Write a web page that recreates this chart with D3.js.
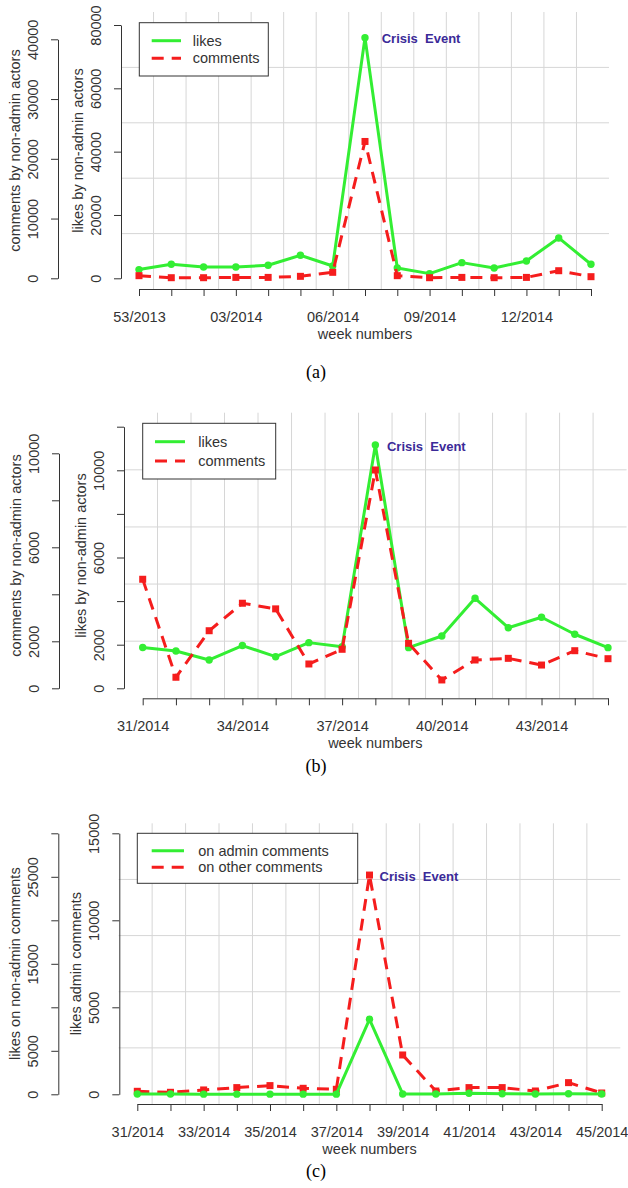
<!DOCTYPE html>
<html>
<head>
<meta charset="utf-8">
<script src="https://cdn.jsdelivr.net/npm/d3@7"></script>
<style>
  html, body { margin: 0; padding: 0; background: #fff; }
  svg { display: block; }
  text { font-family: "Liberation Sans", Arial, sans-serif; }
</style>
</head>
<body>
<script>
// ---- data -------------------------------------------------------------
// (a) weekly activity around the first crisis
const weeksA = ["53/2013","01/2014","02/2014","03/2014","04/2014","05/2014","06/2014","07/2014",
                "08/2014","09/2014","10/2014","11/2014","12/2014","13/2014","14/2014"];
const labelsA = ["53/2013","03/2014","06/2014","09/2014","12/2014"];
const likesA    = [2750, 4430, 3580, 3580, 4110, 7270, 3900, 76000, 3260, 1480, 4950, 3260, 5480, 12740, 4430];
const commentsA = [440, 100, 100, 150, 150, 330, 1000, 22900, 440, 100, 150, 100, 150, 1270, 270];
const likesTicksA = [0, 20000, 40000, 60000, 80000];
const likesLabelsA = [0, 20000, 40000, 60000, 80000];
const commentTicksA = [0, 10000, 20000, 30000, 40000];
const commentLabelsA = [0, 10000, 20000, 30000, 40000];

// (b) weekly activity around the second crisis
const weeksB = ["31/2014","32/2014","33/2014","34/2014","35/2014","36/2014","37/2014","38/2014",
                "39/2014","40/2014","41/2014","42/2014","43/2014","44/2014","45/2014"];
const labelsB = ["31/2014","34/2014","37/2014","40/2014","43/2014"];
const likesB    = [1870, 1710, 1300, 1960, 1450, 2095, 1910, 11160, 1865, 2400, 4130, 2780, 3260, 2480, 1865];
const commentsB = [4640, 470, 2450, 3620, 3380, 1035, 1660, 9290, 1915, 355, 1205, 1275, 990, 1600, 1260];
const likesTicksB = [0, 2000, 4000, 6000, 8000, 10000, 12000];
const likesLabelsB = [0, 2000, 6000, 10000];
const commentTicksB = [0, 2000, 4000, 6000, 8000, 10000];
const commentLabelsB = [0, 2000, 6000, 10000];

// (c) likes on comments, same weeks as (b)
const weeksC = weeksB;
const labelsC = ["31/2014","33/2014","35/2014","37/2014","39/2014","41/2014","43/2014","45/2014"];
const adminLikesC = [20, 20, 10, 10, 10, 10, 10, 4310, 20, 20, 60, 30, 20, 30, 20];
const otherLikesC = [345, 230, 500, 770, 1000, 690, 575, 25200, 4520, 380, 770, 770, 380, 1340, 150];
const adminTicksC = [0, 5000, 10000, 15000];
const adminLabelsC = [0, 5000, 10000, 15000];
const otherTicksC = [0, 5000, 10000, 15000, 20000, 25000, 30000];
const otherLabelsC = [0, 5000, 15000, 25000];

const crisisLabel = "Crisis  Event";

// ---- styling ----------------------------------------------------------
const GREEN = "#33ee33";
const RED = "#f51d1d";
const INK = "#333333";
const GRID = "#d6d6d6";
const CRISIS = "#3b2a98";
const FS = 14.5;

const W = 628, H = 1188;
const svg = d3.select("body").append("svg").attr("width", W).attr("height", H);

// ---- panel layouts ----------------------------------------------------
const panels = [
  {
    caption: "(a)", captionY: 377.6,
    weeks: weeksA, xLabels: labelsA, xRange: [139, 591],
    plot: { left: 121, right: 609, top: 12, bottom: 289 },
    inner: { title: "likes by non-admin actors", x: 121, domain: [0, 80000], range: [278.3, 25],
             ticks: likesTicksA, labels: likesLabelsA },
    outer: { title: "comments by non-admin actors", x: 58, domain: [0, 40000], range: [278.3, 39.3],
             ticks: commentTicksA, labels: commentLabelsA },
    green: { name: "likes", values: likesA, axis: "inner" },
    red: { name: "comments", values: commentsA, axis: "outer" },
    redOnTop: true,
    legend: { x0: 139.3, x1: 268.3, y0: 22.7, y1: 76, rows: [40.7, 58.3], lx0: 151.7, lx1: 181, tx: 192.7 },
    crisis: { series: "green", dx: 16.7, dy: 0.6 }
  },
  {
    caption: "(b)", captionY: 771.6,
    weeks: weeksB, xLabels: labelsB, xRange: [142.7, 608],
    plot: { left: 124, right: 626.6, top: 412.7, bottom: 698.3 },
    inner: { title: "likes by non-admin actors", x: 124, domain: [0, 12000], range: [688.3, 426.7],
             ticks: likesTicksB, labels: likesLabelsB },
    outer: { title: "comments by non-admin actors", x: 59, domain: [0, 10000], range: [688.3, 453.3],
             ticks: commentTicksB, labels: commentLabelsB },
    green: { name: "likes", values: likesB, axis: "inner" },
    red: { name: "comments", values: commentsB, axis: "outer" },
    redOnTop: true,
    legend: { x0: 142.7, x1: 275.7, y0: 423.3, y1: 479, rows: [441.7, 461], lx0: 155, lx1: 185, tx: 198.3 },
    crisis: { series: "green", dx: 11.6, dy: 1.7 }
  },
  {
    caption: "(c)", captionY: 1176.5,
    weeks: weeksC, xLabels: labelsC, xRange: [137.3, 601.7],
    plot: { left: 118.7, right: 620.3, top: 823.3, bottom: 1104 },
    inner: { title: "likes admin comments", x: 119.3, domain: [0, 15000], range: [1094.3, 833.3],
             ticks: adminTicksC, labels: adminLabelsC },
    outer: { title: "likes on non-admin comments", x: 58.3, domain: [0, 30000], range: [1094.3, 833.3],
             ticks: otherTicksC, labels: otherLabelsC },
    green: { name: "on admin comments", values: adminLikesC, axis: "inner" },
    red: { name: "on other comments", values: otherLikesC, axis: "outer" },
    redOnTop: false,
    legend: { x0: 137.3, x1: 357.7, y0: 833.3, y1: 883.3, rows: [850.7, 867.3], lx0: 151.7, lx1: 184, tx: 198.3 },
    crisis: { series: "red", dx: 10, dy: 1.7 }
  }
];

function drawYAxis(g, spec) {
  const scale = d3.scaleLinear().domain(spec.domain).range(spec.range);
  const axis = d3.axisLeft(scale)
    .tickValues(spec.ticks)
    .tickSize(7)
    .tickSizeOuter(0)
    .tickFormat(d => spec.labels.includes(d) ? String(d) : "");
  const ag = g.append("g").attr("transform", `translate(${spec.x},0)`).call(axis);
  ag.select(".domain").attr("stroke", INK);
  ag.selectAll(".tick line").attr("stroke", INK);
  ag.selectAll(".tick text")
    .attr("x", null).attr("y", null)
    .attr("dy", "0.35em")
    .attr("text-anchor", "middle")
    .attr("transform", "translate(-25,0) rotate(-90)")
    .attr("fill", INK)
    .style("font-size", FS + "px")
    .style("font-family", "'Liberation Sans', Arial, sans-serif");
  // axis title, centred on the plotting region
  return scale;
}

panels.forEach(p => {
  const g = svg.append("g");
  const { left, right, top, bottom } = p.plot;

  // grid: 15 vertical and 5 horizontal equal divisions of the plotting region
  const nx = 15, ny = 5;
  const gx = d3.range(1, nx).map(k => left + k * (right - left) / nx);
  const gy = d3.range(1, ny).map(k => top + k * (bottom - top) / ny);
  g.selectAll(".vgrid").data(gx).join("line")
    .attr("x1", d => d).attr("x2", d => d).attr("y1", top).attr("y2", bottom)
    .attr("stroke", GRID).attr("stroke-width", 1);
  g.selectAll(".hgrid").data(gy).join("line")
    .attr("x1", left).attr("x2", right).attr("y1", d => d).attr("y2", d => d)
    .attr("stroke", GRID).attr("stroke-width", 1);

  // scales
  const x = d3.scalePoint().domain(p.weeks).range(p.xRange);
  const yInner = drawYAxis(g, p.inner);
  const yOuter = drawYAxis(g, p.outer);
  const yFor = s => s.axis === "inner" ? yInner : yOuter;
  const midY = (top + bottom) / 2;

  [p.inner, p.outer].forEach(spec => {
    g.append("text")
      .attr("transform", `translate(${spec.x - 43},${midY}) rotate(-90)`)
      .attr("text-anchor", "middle").attr("dy", "0.35em")
      .attr("fill", INK).style("font-size", FS + "px")
      .text(spec.title);
  });

  // x axis
  const xAxis = d3.axisBottom(x).tickSize(7).tickSizeOuter(0)
    .tickFormat(d => p.xLabels.includes(d) ? d : "");
  const xg = g.append("g").attr("transform", `translate(0,${bottom})`).call(xAxis);
  xg.select(".domain").attr("stroke", INK);
  xg.selectAll(".tick line").attr("stroke", INK);
  xg.selectAll(".tick text")
    .attr("y", 33).attr("dy", null)
    .attr("fill", INK)
    .style("font-size", FS + "px")
    .style("font-family", "'Liberation Sans', Arial, sans-serif");
  g.append("text")
    .attr("x", (left + right) / 2).attr("y", bottom + 45).attr("dy", "0.35em")
    .attr("text-anchor", "middle").attr("fill", INK).style("font-size", FS + "px")
    .text("week numbers");

  // series
  const drawGreen = () => {
    const ys = yFor(p.green);
    const idx = d3.range(p.weeks.length);
    g.append("path")
      .attr("d", d3.line().x(i => x(p.weeks[i])).y(i => ys(p.green.values[i]))(idx))
      .attr("fill", "none").attr("stroke", GREEN).attr("stroke-width", 3)
      .attr("stroke-linejoin", "round");
    g.selectAll(null).data(idx).join("circle")
      .attr("cx", i => x(p.weeks[i])).attr("cy", i => ys(p.green.values[i]))
      .attr("r", 3.7).attr("fill", GREEN);
  };
  const drawRed = () => {
    const ys = yFor(p.red);
    const idx = d3.range(p.weeks.length);
    g.append("path")
      .attr("d", d3.line().x(i => x(p.weeks[i])).y(i => ys(p.red.values[i]))(idx))
      .attr("fill", "none").attr("stroke", RED).attr("stroke-width", 3)
      .attr("stroke-dasharray", "12,8");
    g.selectAll(null).data(idx).join("rect")
      .attr("x", i => x(p.weeks[i]) - 3.5).attr("y", i => ys(p.red.values[i]) - 3.5)
      .attr("width", 7).attr("height", 7).attr("fill", RED);
  };
  if (p.redOnTop) { drawGreen(); drawRed(); } else { drawRed(); drawGreen(); }

  // crisis annotation at the peak week
  const cs = p[p.crisis.series];
  const peak = d3.maxIndex(cs.values);
  g.append("text")
    .attr("x", x(p.weeks[peak]) + p.crisis.dx)
    .attr("y", yFor(cs)(cs.values[peak]) + p.crisis.dy)
    .attr("dy", "0.35em")
    .attr("fill", CRISIS).attr("font-weight", "bold").style("font-size", "13px")
    .style("white-space", "pre").attr("xml:space", "preserve")
    .text(crisisLabel);

  // legend
  const L = p.legend;
  g.append("rect")
    .attr("x", L.x0).attr("y", L.y0).attr("width", L.x1 - L.x0).attr("height", L.y1 - L.y0)
    .attr("fill", "#fff").attr("stroke", INK).attr("stroke-width", 1);
  [p.green, p.red].forEach((s, k) => {
    g.append("line")
      .attr("x1", L.lx0).attr("x2", L.lx1).attr("y1", L.rows[k]).attr("y2", L.rows[k])
      .attr("stroke", k === 0 ? GREEN : RED).attr("stroke-width", 3)
      .attr("stroke-dasharray", k === 0 ? null : "12,8");
    g.append("text")
      .attr("x", L.tx).attr("y", L.rows[k]).attr("dy", "0.35em")
      .attr("fill", INK).style("font-size", FS + "px")
      .text(s.name);
  });

  // caption
  g.append("text")
    .attr("x", 316).attr("y", p.captionY)
    .attr("text-anchor", "middle")
    .style("font-family", "'Liberation Serif', 'Times New Roman', serif")
    .style("font-size", "18px").attr("fill", "#000")
    .text(p.caption);
});
</script>
</body>
</html>
